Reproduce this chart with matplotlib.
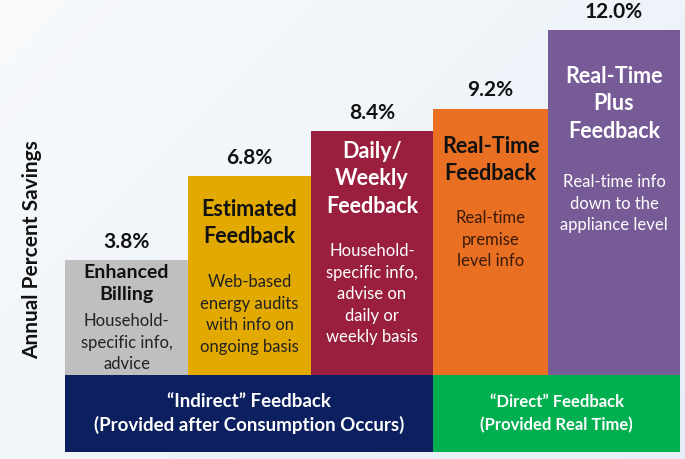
import numpy as np
import matplotlib.pyplot as plt
from matplotlib.colors import LinearSegmentedColormap

plt.rcParams['font.family'] = ['Lato', 'DejaVu Sans']

# data
values = [3.8, 6.8, 8.4, 9.2, 12.0]
titles = ["Enhanced\nBilling", "Estimated\nFeedback", "Daily/\nWeekly\nFeedback",
          "Real-Time\nFeedback", "Real-Time\nPlus\nFeedback"]
details = ["Household-\nspecific info,\nadvice",
           "Web-based\nenergy audits\nwith info on\nongoing basis",
           "Household-\nspecific info,\nadvise on\ndaily or\nweekly basis",
           "Real-time\npremise\nlevel info",
           "Real-time info\ndown to the\nappliance level"]
groups = ["\u201cIndirect\u201d Feedback\n(Provided after Consumption Occurs)",
          "\u201cDirect\u201d Feedback\n(Provided Real Time)"]
group_sizes = [3, 2]

# layout / style
W, H = 685, 459
widths = [123, 123, 122, 115, 132]
colors = ["#bfbfbf", "#e2a900", "#9a1f3e", "#e96f22", "#775b97"]
text_colors = ["#111111", "#111111", "white", "#111111", "white"]
detail_colors = ["#222222", "#222222", "white", "#3a1a08", "white"]
group_colors = ["#0c1f5e", "#00af50"]
title_sizes = [14, 15.5, 15.5, 15.5, 15.5]
title_y = [274, 209, 151, 146, 76]      # pixel rows of first title line
detail_y = [322, 283, 252, 219, 183]    # pixel rows of first detail line
px_per_unit = 28.05
zero_px = 366.6
band_top_px, band_bot_px = 375, 452

fig = plt.figure(figsize=(W / 100, H / 100), dpi=100)

# soft background
bg = fig.add_axes([0, 0, 1, 1], zorder=-10)
grad = np.linspace(0, 1, 256)
gx, gy = np.meshgrid(grad, grad)
cmap = LinearSegmentedColormap.from_list("bg", ["#f8fafc", "#e6eff7"])
bg.imshow(0.6 * gx + 0.4 * gy, cmap=cmap, aspect="auto", origin="upper", extent=[0, 1, 0, 1])
bg.axis("off")


def py(px):
    return (zero_px - px) / px_per_unit


ax = fig.add_axes([65 / W, (H - band_bot_px) / H, sum(widths) / W, band_bot_px / H])
ax.set_xlim(0, sum(widths))
ax.set_ylim(py(band_bot_px), py(0))
ax.axis("off")

lefts = np.concatenate([[0], np.cumsum(widths)[:-1]])
centers = lefts + np.array(widths) / 2
base = py(band_top_px)
ax.bar(lefts, np.array(values) - base, bottom=base, width=widths, align="edge",
       color=colors, linewidth=0, zorder=1)

for i, v in enumerate(values):
    ax.annotate(f"{v:.1f}%", (centers[i], v), xytext=(0, 6), textcoords="offset points",
                ha="center", va="bottom", fontsize=15, fontweight="bold", color="#111111")
    ax.text(centers[i], py(title_y[i] - 10), titles[i], ha="center", va="top",
            fontsize=title_sizes[i], fontweight="bold", color=text_colors[i], linespacing=1.37)
    ax.text(centers[i], py(detail_y[i] - 9), details[i], ha="center", va="top",
            fontsize=12, color=detail_colors[i], linespacing=1.43)

# feedback group bands
idx = np.concatenate([[0], np.cumsum(group_sizes)])
b0, b1 = py(band_bot_px), py(band_top_px)
for g, label in enumerate(groups):
    x0 = lefts[idx[g]]
    x1 = lefts[idx[g + 1] - 1] + widths[idx[g + 1] - 1]
    ax.bar(x0, b1 - b0, width=x1 - x0, bottom=b0, align="edge",
           color=group_colors[g], linewidth=0, zorder=3)
    ax.text((x0 + x1) / 2, (b0 + b1) / 2, label, ha="center", va="center",
            fontsize=13.5 if g == 0 else 12, fontweight="bold", color="white",
            linespacing=1.37 if g == 0 else 1.54, zorder=4)

fig.text(32 / W, 1 - 250 / H, "Annual Percent Savings", rotation=90, ha="center",
         va="center", fontsize=15, fontweight="bold", color="#111111")

fig.savefig("out.png", dpi=100)
